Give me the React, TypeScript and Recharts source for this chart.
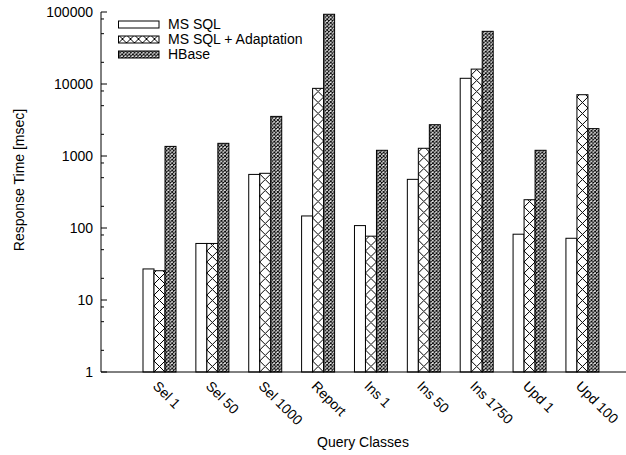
import { BarChart, Bar, XAxis, YAxis, Legend, Label } from 'recharts';

const categories = ['Sel 1', 'Sel 50', 'Sel 1000', 'Report', 'Ins 1', 'Ins 50', 'Ins 1750', 'Upd 1', 'Upd 100'];
const msSql = [27, 61, 555, 147, 108, 474, 12000, 82, 72];
const msSqlAdapt = [25.5, 61, 575, 8700, 77, 1280, 16100, 247, 7100];
const hbase = [1360, 1500, 3550, 93000, 1200, 2720, 53900, 1200, 2400];

const seriesNames = ['MS SQL', 'MS SQL + Adaptation', 'HBase'];
const decadeTicks = [1, 10, 100, 1000, 10000, 100000];
const minorFactors = [2, 5, 8];

const FONT = '"Liberation Sans", Arial, Helvetica, sans-serif';

const data = categories.map((name, i) => ({
  name,
  msSql: msSql[i],
  msSqlAdapt: msSqlAdapt[i],
  hbase: hbase[i],
}));

// decade ticks plus the 2/5/8 minor marks gnuplot drew
const yTicks = decadeTicks.flatMap((d) =>
  d === 100000 ? [d] : [d, ...minorFactors.map((f) => d * f)]
);
const isDecade = (v: number) => decadeTicks.includes(v);

type Kind = 'plain' | 'cross' | 'dense';

// pattern anchored at (x, y) so every bar starts its hatch the same way
const hatch = (id: string, kind: Kind, x: number, y: number, w: number) => {
  if (kind === 'cross') {
    return (
      <pattern id={id} patternUnits="userSpaceOnUse" x={x} y={y} width={w} height={w}>
        <rect width={w} height={w} fill="#fff" />
        <path d={`M0,0L${w},${w}M${w},0L0,${w}`} stroke="#000" strokeWidth={1} />
      </pattern>
    );
  }
  return (
    <pattern id={id} patternUnits="userSpaceOnUse" x={x} y={y} width={3.6} height={3.6}>
      <rect width={3.6} height={3.6} fill="#fff" />
      <path d="M0,0L3.6,3.6M3.6,0L0,3.6" stroke="#000" strokeWidth={1} />
    </pattern>
  );
};

const makeShape = (kind: Kind) => (props: any) => {
  const { x, y, width, height, index } = props;
  if (!height || height <= 0) return <g />;
  const id = `bar-${kind}-${index}`;
  return (
    <g>
      {kind !== 'plain' && <defs>{hatch(id, kind, x, y + height, width)}</defs>}
      <rect
        x={x}
        y={y}
        width={width}
        height={height}
        fill={kind === 'plain' ? '#fff' : `url(#${id})`}
        stroke="#000"
        strokeWidth={1}
      />
    </g>
  );
};

const YTick = (props: any) => {
  const { x, y, payload } = props;
  const major = isDecade(payload.value);
  return (
    <g>
      <line x1={x} y1={y} x2={x + (major ? 6 : 3)} y2={y} stroke="#000" />
      {major && (
        <text x={x - 8} y={y} dy="0.35em" textAnchor="end" fontSize={14} fontFamily={FONT} fill="#000">
          {payload.value}
        </text>
      )}
    </g>
  );
};

const YTickRight = (props: any) => {
  const { x, y, payload } = props;
  const major = isDecade(payload.value);
  return <line x1={x} y1={y} x2={x - (major ? 6 : 3)} y2={y} stroke="#000" />;
};

const XTick = (props: any) => {
  const { x, y, payload } = props;
  const tx = x - 7;
  const ty = y + 15;
  return (
    <text
      x={tx}
      y={ty}
      transform={`rotate(45, ${tx}, ${ty})`}
      textAnchor="start"
      fontSize={14}
      fontFamily={FONT}
      fill="#000"
    >
      {payload.value}
    </text>
  );
};

const TopTick = (props: any) => {
  const { x, y } = props;
  return <line x1={x - 5} y1={y} x2={x - 5} y2={y + 5} stroke="#000" />;
};

const kinds: Kind[] = ['plain', 'cross', 'dense'];

const LegendBox = () => (
  <div style={{ fontFamily: FONT, fontSize: 14, color: '#000' }}>
    {seriesNames.map((name, i) => (
      <div key={name} style={{ display: 'flex', alignItems: 'center', height: 15 }}>
        <svg width={42} height={9} style={{ marginRight: 8 }}>
          <defs>{kinds[i] !== 'plain' && hatch(`lg-${i}`, kinds[i], 0.5, 8, kinds[i] === 'cross' ? 8 : 3.6)}</defs>
          <rect
            x={0.5}
            y={1}
            width={40.5}
            height={7}
            fill={kinds[i] === 'plain' ? '#fff' : `url(#lg-${i})`}
            stroke="#000"
          />
        </svg>
        <span style={{ lineHeight: '15px' }}>{name}</span>
      </div>
    ))}
  </div>
);

export default function App() {
  return (
    <div style={{ position: 'absolute', left: 0, top: 0, width: 626, height: 455, overflow: 'hidden', background: '#fff' }}>
      <BarChart
        width={628}
        height={455}
        data={data}
        margin={{ top: 12, right: 0, bottom: 0, left: 0 }}
        barCategoryGap={10.4}
        barGap={0}
      >
        <XAxis
          dataKey="name"
          height={83}
          padding={{ left: 31.6, right: 19.6 }}
          axisLine={{ stroke: '#000' }}
          tickLine={false}
          tickSize={0}
          tickMargin={0}
          interval={0}
          tick={<XTick />}
        >
          <Label
            content={(p: any) => (
              <text
                x={p.viewBox.x + 262}
                y={p.viewBox.y + 75}
                textAnchor="middle"
                fontSize={14}
                fontFamily={FONT}
                fill="#000"
              >
                Query Classes
              </text>
            )}
          />
        </XAxis>
        <XAxis
          xAxisId="top"
          orientation="top"
          dataKey="name"
          height={0}
          padding={{ left: 31.6, right: 19.6 }}
          axisLine={{ stroke: '#000' }}
          tickLine={false}
          tickSize={0}
          tickMargin={0}
          interval={0}
          tick={<TopTick />}
        />
        <YAxis
          scale="log"
          domain={[1, 100000]}
          ticks={yTicks}
          interval={0}
          width={101}
          axisLine={{ stroke: '#000' }}
          tickLine={false}
          tickSize={0}
          tickMargin={0}
          tick={<YTick />}
        >
          <Label
            content={(p: any) => {
              const cx = p.viewBox.x + 19;
              const cy = p.viewBox.y + 168;
              return (
                <text
                  x={cx}
                  y={cy}
                  dy="0.35em"
                  transform={`rotate(-90, ${cx}, ${cy})`}
                  textAnchor="middle"
                  fontSize={14}
                  fontFamily={FONT}
                  fill="#000"
                >
                  Response Time [msec]
                </text>
              );
            }}
          />
        </YAxis>
        <YAxis
          yAxisId="right"
          orientation="right"
          scale="log"
          domain={[1, 100000]}
          ticks={yTicks}
          interval={0}
          width={0}
          axisLine={{ stroke: '#000' }}
          tickLine={false}
          tickSize={0}
          tickMargin={0}
          tick={<YTickRight />}
        />
        <Legend
          layout="horizontal"
          verticalAlign="middle"
          align="center"
          content={<LegendBox />}
          wrapperStyle={{ left: 118, top: 17, width: 'auto', height: 'auto' }}
        />
        <Bar dataKey="msSql" name={seriesNames[0]} shape={makeShape('plain')} isAnimationActive={false} />
        <Bar dataKey="msSqlAdapt" name={seriesNames[1]} shape={makeShape('cross')} isAnimationActive={false} />
        <Bar dataKey="hbase" name={seriesNames[2]} shape={makeShape('dense')} isAnimationActive={false} />
      </BarChart>
    </div>
  );
}
